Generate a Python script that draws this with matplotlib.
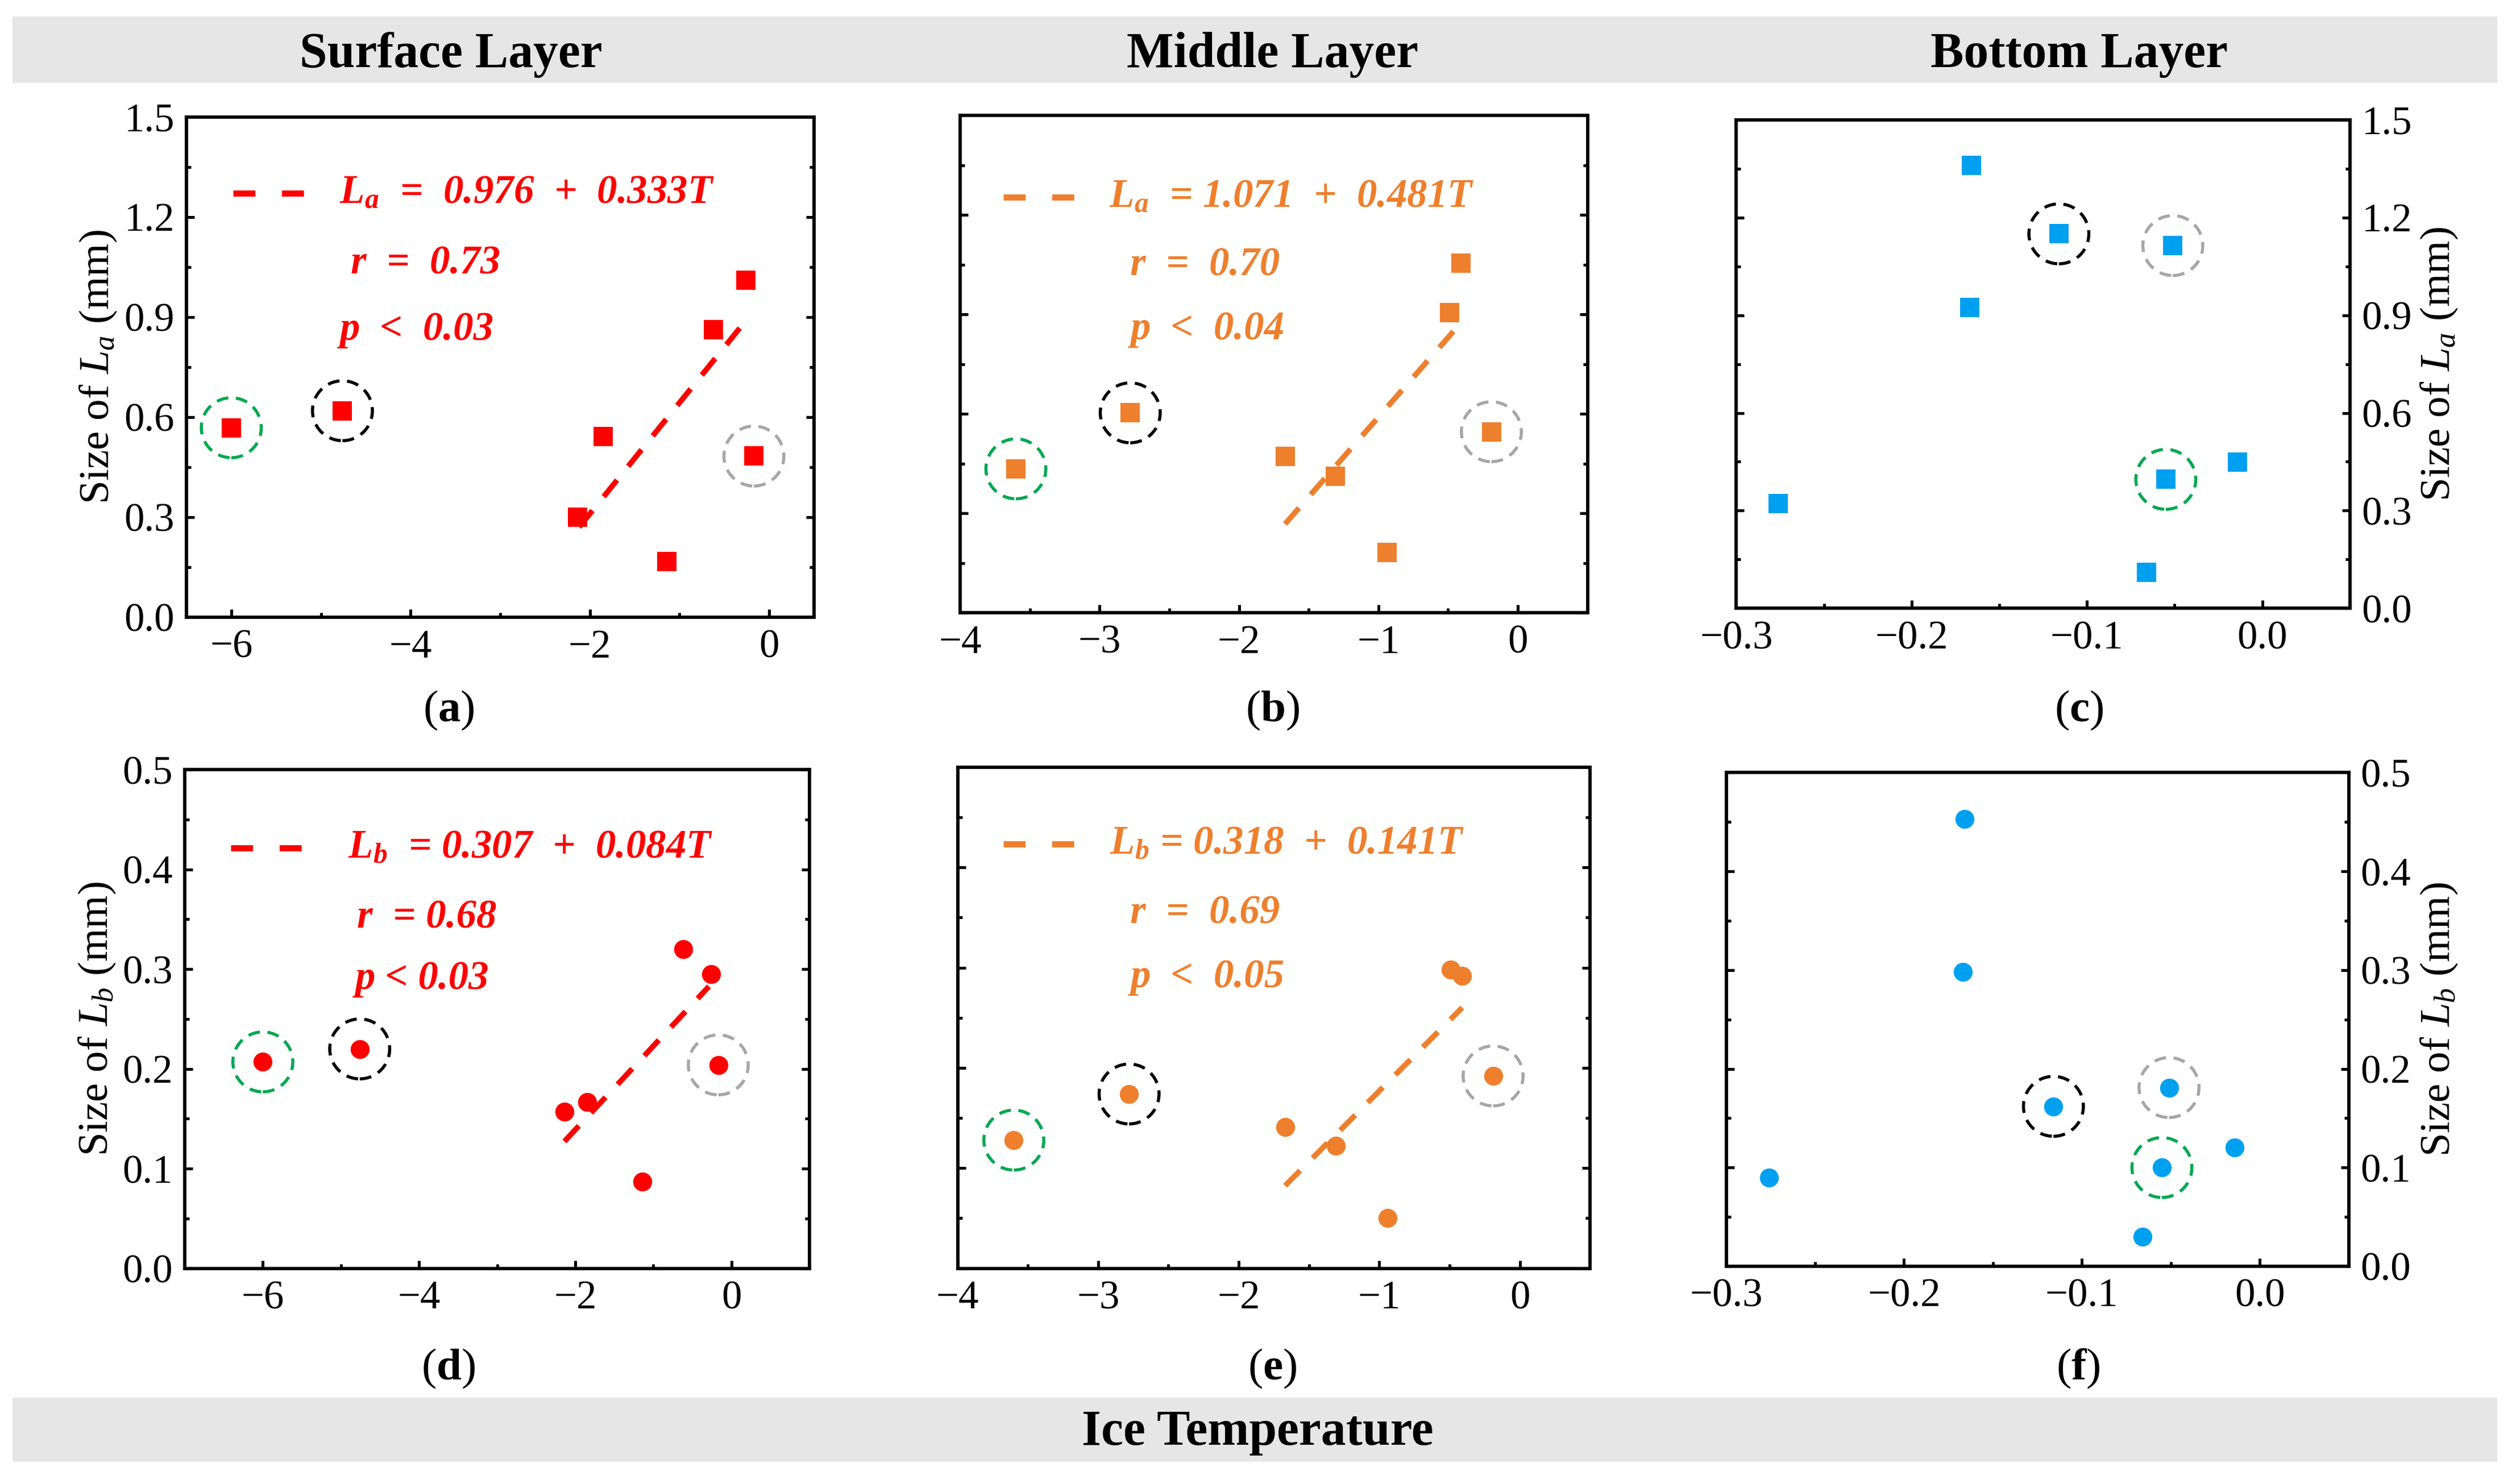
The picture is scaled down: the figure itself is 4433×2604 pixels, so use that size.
import numpy as np
import matplotlib
matplotlib.use("Agg")
import matplotlib.pyplot as plt
from matplotlib.patches import Rectangle
from matplotlib.ticker import MultipleLocator, FuncFormatter

plt.rcParams['font.family'] = ['Liberation Serif', 'DejaVu Serif']
plt.rcParams['mathtext.fontset'] = 'custom'
plt.rcParams['mathtext.rm'] = 'Liberation Serif'
plt.rcParams['mathtext.it'] = 'Liberation Serif:italic'
plt.rcParams['mathtext.bf'] = 'Liberation Serif:bold'
plt.rcParams['mathtext.bfit'] = 'Liberation Serif:italic:bold'
plt.rcParams['lines.scale_dashes'] = False

# ---- data ----
surface_T = [-6.0, -4.76, -2.14, -1.85, -1.14, -0.62, -0.26, -0.17]
surface_La = [0.568, 0.619, 0.300, 0.542, 0.167, 0.862, 1.011, 0.483]
surface_Lb = [0.207, 0.220, 0.157, 0.167, 0.087, 0.320, 0.295, 0.204]

middle_T = [-3.60, -2.78, -1.67, -1.31, -0.94, -0.49, -0.41, -0.19]
middle_La = [0.434, 0.603, 0.471, 0.411, 0.181, 0.906, 1.055, 0.546]
middle_Lb = [0.128, 0.174, 0.141, 0.122, 0.050, 0.298, 0.292, 0.192]

bottom_T = [-0.276, -0.166, -0.167, -0.116, -0.051, -0.055, -0.014, -0.066]
bottom_La = [0.321, 1.361, 0.923, 1.150, 1.114, 0.396, 0.449, 0.110]
bottom_Lb = [0.090, 0.453, 0.298, 0.162, 0.181, 0.100, 0.120, 0.030]

# highlighted points (index -> circle colour)
surface_marks = {0: 'green', 1: 'black', 7: 'gray'}
middle_marks = {0: 'green', 1: 'black', 7: 'gray'}
bottom_marks = {3: 'black', 4: 'gray', 5: 'green'}

# fits: intercept, slope, x range of the drawn line
fit_a = (0.976, 0.333, [-2.12, -0.30])
fit_b = (1.071, 0.481, [-1.67, -0.45])
fit_d = (0.307, 0.084, [-2.14, -0.29])
fit_e = (0.318, 0.141, [-1.67, -0.41])

eq_a = [r"$\mathbfit{L_a}$  =  0.976  +  0.333$\mathbfit{T}$", "r  =  0.73", "p  <  0.03"]
eq_b = [r"$\mathbfit{L_a}$  = 1.071  +  0.481$\mathbfit{T}$", "r  =  0.70", "p  <  0.04"]
eq_d = [r"$\mathbfit{L_b}$  = 0.307  +  0.084$\mathbfit{T}$", "r  = 0.68", "p < 0.03"]
eq_e = [r"$\mathbfit{L_b}$ = 0.318  +  0.141$\mathbfit{T}$", "r  =  0.69", "p  <  0.05"]

layer_titles = ['Surface Layer', 'Middle Layer', 'Bottom Layer']
panel_tags = ['a', 'b', 'c', 'd', 'e', 'f']

RED = '#FF0000'
ORANGE = '#EE7F2D'
BLUE = '#00A0F0'
ring_colors = {'green': '#00A850', 'black': '#000000', 'gray': '#A6A6A6'}

fig = plt.figure(figsize=(4433 / 300, 2604 / 300), dpi=300)

# grey bands
fig.patches.append(Rectangle((0.005, 0.944), 0.986, 0.045, transform=fig.transFigure,
                             facecolor='#E6E6E6', edgecolor='none', zorder=0))
fig.patches.append(Rectangle((0.005, 0.0123), 0.986, 0.0434, transform=fig.transFigure,
                             facecolor='#E6E6E6', edgecolor='none', zorder=0))
col_x = [0.179, 0.505, 0.825]
for cx, t in zip(col_x, layer_titles):
    fig.text(cx, 0.963, t, ha='center', va='center', fontsize=21, fontweight='bold')
fig.text(0.499, 0.032, 'Ice Temperature', ha='center', va='center', fontsize=21, fontweight='bold')

rects = [
    [0.074, 0.583, 0.249, 0.338],
    [0.381, 0.586, 0.249, 0.336],
    [0.689, 0.589, 0.2435, 0.330],
    [0.0733, 0.143, 0.248, 0.337],
    [0.380, 0.143, 0.251, 0.3386],
    [0.685, 0.1444, 0.247, 0.3336],
]

panels = [
    dict(T=surface_T, L=surface_La, c=RED, m='s', marks=surface_marks, xlim=(-6.5, 0.5), xmaj=2, xmin=1,
         ylim=(0, 1.5), ymaj=0.3, ymin=0.15, fit=fit_a, eq=eq_a, side='left', lab='a',
         pos=dict(line=(0.074, 0.188, 0.847), eq=(0.244, 0.847), r=(0.262, 0.706), p=(0.244, 0.574))),
    dict(T=middle_T, L=middle_La, c=ORANGE, m='s', marks=middle_marks, xlim=(-4, 0.5), xmaj=1, xmin=0.5,
         ylim=(0, 1.5), ymaj=0.3, ymin=0.15, fit=fit_b, eq=eq_b, side='none', lab='a',
         pos=dict(line=(0.069, 0.185, 0.835), eq=(0.237, 0.835), r=(0.271, 0.698), p=(0.271, 0.570))),
    dict(T=bottom_T, L=bottom_La, c=BLUE, m='s', marks=bottom_marks, xlim=(-0.3, 0.05), xmaj=0.1, xmin=0.05,
         ylim=(0, 1.5), ymaj=0.3, ymin=0.15, fit=None, eq=None, side='right', lab='a', pos=None),
    dict(T=surface_T, L=surface_Lb, c=RED, m='o', marks=surface_marks, xlim=(-7, 1), xmaj=2, xmin=1,
         ylim=(0, 0.5), ymaj=0.1, ymin=0.05, fit=fit_d, eq=eq_d, side='left', lab='b',
         pos=dict(line=(0.074, 0.187, 0.843), eq=(0.261, 0.843), r=(0.276, 0.703), p=(0.272, 0.580))),
    dict(T=middle_T, L=middle_Lb, c=ORANGE, m='o', marks=middle_marks, xlim=(-4, 0.5), xmaj=1, xmin=0.5,
         ylim=(0, 0.5), ymaj=0.1, ymin=0.05, fit=fit_e, eq=eq_e, side='none', lab='b',
         pos=dict(line=(0.072, 0.187, 0.847), eq=(0.240, 0.847), r=(0.273, 0.708), p=(0.273, 0.581))),
    dict(T=bottom_T, L=bottom_Lb, c=BLUE, m='o', marks=bottom_marks, xlim=(-0.3, 0.05), xmaj=0.1, xmin=0.05,
         ylim=(0, 0.5), ymaj=0.1, ymin=0.05, fit=None, eq=None, side='right', lab='b', pos=None),
]

tag_pos = [(0.178, 0.520), (0.505, 0.520), (0.825, 0.520),
           (0.178, 0.075), (0.505, 0.075), (0.8246, 0.075)]


def dec_fmt(v, _):
    if abs(v) < 1e-9:
        return '0.0'
    return ('%.1f' % v).replace('-', '\u2212')


for i, (rect, p) in enumerate(zip(rects, panels)):
    ax = fig.add_axes(rect)
    T = np.array(p['T'])
    L = np.array(p['L'])
    ax.scatter(T, L, s=64, marker=p['m'], color=p['c'], linewidths=0, zorder=3)

    # dashed rings round the highlighted samples
    for idx, rc in p['marks'].items():
        ax.scatter([T[idx]], [L[idx]], s=640, marker='o', facecolors='none',
                   edgecolors=ring_colors[rc], linewidths=1.3, linestyles=[(0, (5, 3.2))], zorder=4)

    if p['fit'] is not None:
        a0, a1, xr = p['fit']
        xs = np.array(xr)
        ax.plot(xs, a0 + a1 * xs, color=p['c'], lw=2.3, ls=(0, (9, 7.5)), zorder=2)
        pos = p['pos']
        x0, x1, yl = pos['line']
        ax.plot([x0, x1], [yl, yl], transform=ax.transAxes, color=p['c'], lw=2.6,
                ls=(0, (9.3, 11.2)), solid_capstyle='butt')
        kw = dict(transform=ax.transAxes, color=p['c'], fontsize=17, fontstyle='italic',
                  fontweight='bold', ha='left', va='center')
        ax.text(pos['eq'][0], pos['eq'][1], p['eq'][0], **kw)
        ax.text(pos['r'][0], pos['r'][1], p['eq'][1], **kw)
        ax.text(pos['p'][0], pos['p'][1], p['eq'][2], **kw)

    ax.set_xlim(*p['xlim'])
    ax.set_ylim(*p['ylim'])
    ax.xaxis.set_major_locator(MultipleLocator(p['xmaj']))
    ax.xaxis.set_minor_locator(MultipleLocator(p['xmin']))
    ax.yaxis.set_major_locator(MultipleLocator(p['ymaj']))
    ax.yaxis.set_minor_locator(MultipleLocator(p['ymin']))
    if p['xmaj'] < 0.5:
        ax.xaxis.set_major_formatter(FuncFormatter(dec_fmt))
    ax.yaxis.set_major_formatter(FuncFormatter(dec_fmt))

    for sp in ax.spines.values():
        sp.set_linewidth(1.4)
    ax.tick_params(which='both', direction='in', top=False, bottom=True, left=True, right=True,
                   width=1.2, labelsize=17, pad=5)
    ax.tick_params(which='major', length=3.4)
    ax.tick_params(which='minor', length=1.9)

    ylab = r"Size of $L_%s$ (mm)" % p['lab']
    if p['side'] == 'left':
        ax.tick_params(labelleft=True, labelright=False)
        ax.set_ylabel(ylab, fontsize=18)
        ax.yaxis.set_label_coords(-0.14, 0.5)
        ax.yaxis.label.set_verticalalignment('center')
    elif p['side'] == 'right':
        ax.tick_params(labelleft=False, labelright=True)
        ax.yaxis.set_label_position('right')
        ax.set_ylabel(ylab, fontsize=18)
        ax.yaxis.set_label_coords(1.146, 0.5)
        ax.yaxis.label.set_verticalalignment('center')
    else:
        ax.tick_params(labelleft=False, labelright=False)

    tx, ty = tag_pos[i]
    fig.text(tx, ty, r"($\mathbf{%s}$)" % panel_tags[i], ha='center', va='center', fontsize=19)

fig.savefig('out.png', dpi=300)
